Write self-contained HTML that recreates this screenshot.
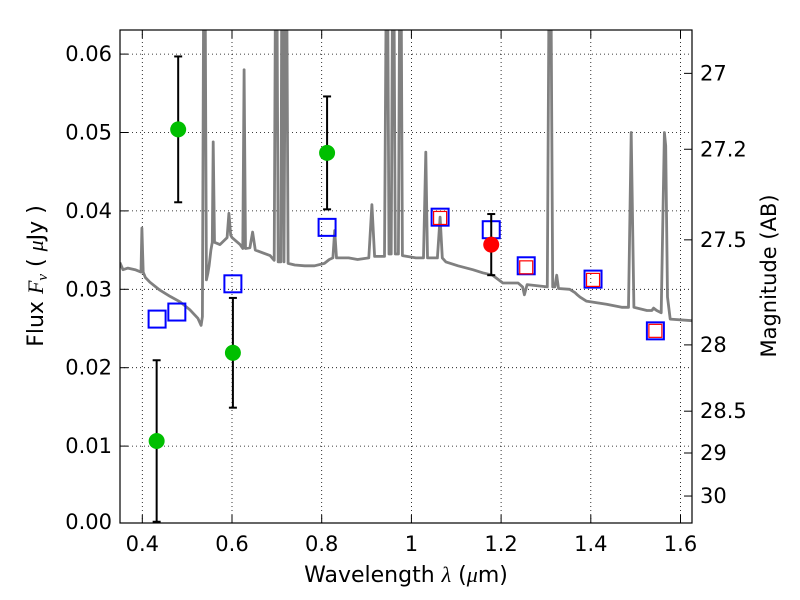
<!DOCTYPE html>
<html><head><meta charset="utf-8">
<style>
html,body{margin:0;padding:0;background:#fff;}
svg{display:block;font-family:"DejaVu Sans","Liberation Sans",sans-serif;}
</style></head>
<body>
<svg id="chart" width="800" height="600" viewBox="0 0 800 600" xmlns="http://www.w3.org/2000/svg">
<defs><clipPath id="clip"><rect x="120" y="30" width="572" height="493"/></clipPath></defs>
<rect x="0" y="0" width="800" height="600" fill="#fff"/>
<g id="grid"></g>
<g id="spec" clip-path="url(#clip)"></g>
<g id="marks" clip-path="url(#clip)"></g>
<rect x="120" y="30" width="572" height="493" fill="none" stroke="#000" stroke-width="1.2"/>
<g id="axes"></g>
<text x="406" y="582" font-size="22" text-anchor="middle">Wavelength  <tspan font-family="Liberation Serif,serif" font-style="italic">λ</tspan> (<tspan font-family="Liberation Serif,serif" font-style="italic">μ</tspan>m)</text>
<text transform="translate(43,276) rotate(-90)" font-size="22" text-anchor="middle">Flux  <tspan font-family="Liberation Serif,serif" font-style="italic">F<tspan font-size="15" dy="4">ν</tspan></tspan><tspan dy="-4">  ( </tspan><tspan font-family="Liberation Serif,serif" font-style="italic">μ</tspan>Jy )</text>
<text transform="translate(776,276) rotate(-90)" font-size="21" text-anchor="middle">Magnitude (AB)</text>
</svg>
<script>
const xTicks=[0.4,0.6,0.8,1.0,1.2,1.4,1.6];
const xTickLabels=["0.4","0.6","0.8","1","1.2","1.4","1.6"];
const yTicks=[0,0.01,0.02,0.03,0.04,0.05,0.06];
const yTickLabels=["0.00","0.01","0.02","0.03","0.04","0.05","0.06"];
const magTicks=[27,27.2,27.5,28,28.5,29,30];
const magTickLabels=["27","27.2","27.5","28","28.5","29","30"];
const spectrum=[[0.350,0.0334],[0.357,0.0325],[0.368,0.0327],[0.384,0.0325],[0.397,0.0322],[0.399,0.0378],[0.402,0.0322],[0.407,0.0315],[0.417,0.0309],[0.439,0.0299],[0.462,0.0291],[0.484,0.0284],[0.506,0.0274],[0.524,0.0263],[0.531,0.0254],[0.534,0.0265],[0.537,0.070],[0.540,0.070],[0.543,0.0312],[0.546,0.0320],[0.549,0.0330],[0.553,0.0350],[0.556,0.0360],[0.558,0.0488],[0.561,0.0360],[0.573,0.0357],[0.584,0.0363],[0.589,0.0366],[0.593,0.0397],[0.597,0.0369],[0.600,0.0366],[0.618,0.0357],[0.624,0.0352],[0.627,0.058],[0.630,0.0352],[0.640,0.0353],[0.646,0.0373],[0.652,0.0350],[0.685,0.0343],[0.694,0.0337],[0.697,0.070],[0.700,0.070],[0.703,0.0335],[0.709,0.0335],[0.711,0.070],[0.713,0.070],[0.716,0.0335],[0.719,0.070],[0.722,0.070],[0.725,0.0333],[0.740,0.0331],[0.762,0.0330],[0.784,0.0330],[0.806,0.0333],[0.817,0.0338],[0.825,0.0340],[0.829,0.0375],[0.833,0.0340],[0.860,0.0340],[0.880,0.0338],[0.905,0.0340],[0.912,0.0408],[0.918,0.0342],[0.940,0.0342],[0.944,0.070],[0.947,0.070],[0.950,0.0345],[0.955,0.0345],[0.958,0.070],[0.961,0.070],[0.964,0.0345],[0.971,0.0345],[0.974,0.070],[0.977,0.070],[0.980,0.0343],[1.010,0.0340],[1.027,0.0340],[1.032,0.0475],[1.036,0.0340],[1.058,0.0340],[1.064,0.0392],[1.069,0.0340],[1.077,0.0335],[1.104,0.0330],[1.137,0.0325],[1.159,0.0321],[1.181,0.0318],[1.204,0.0308],[1.238,0.0308],[1.248,0.0303],[1.252,0.0293],[1.258,0.0306],[1.303,0.0303],[1.307,0.070],[1.311,0.070],[1.315,0.0303],[1.320,0.0303],[1.324,0.0318],[1.328,0.0301],[1.353,0.0300],[1.364,0.0296],[1.370,0.0293],[1.376,0.0290],[1.390,0.0285],[1.435,0.0281],[1.469,0.0277],[1.484,0.0277],[1.490,0.0500],[1.496,0.0277],[1.525,0.0273],[1.536,0.0273],[1.540,0.0276],[1.547,0.0273],[1.557,0.0270],[1.564,0.0500],[1.567,0.0483],[1.571,0.0290],[1.577,0.0262],[1.626,0.0260]];
const obsWave=[0.432,0.480,0.602,0.812];
const obsFlux=[0.01065,0.0504,0.0219,0.0474];
const obsErr=[0.0103,0.0093,0.0070,0.0072];
const nirWave=[1.178];
const nirFlux=[0.0357];
const nirErr=[0.0039];
const modelWave=[0.433,0.477,0.602,0.812,1.064,1.178,1.256,1.405,1.544];
const modelFlux=[0.0262,0.0271,0.0307,0.0379,0.0392,0.0376,0.0330,0.0313,0.0247];
const redWave=[1.064,1.256,1.405,1.544];
const redFlux=[0.0391,0.0328,0.0312,0.0247];

const NS="http://www.w3.org/2000/svg";
const X=w=>142.3+(w-0.4)*448.5;
const Y=f=>524.5-f*7840;
const magToFlux=m=>Math.pow(10,(23.9-m)/2.5);
function mk(tag,attrs,parent){const e=document.createElementNS(NS,tag);for(const k in attrs)e.setAttribute(k,attrs[k]);parent.appendChild(e);return e;}
const grid=document.getElementById('grid'),axes=document.getElementById('axes'),spec=document.getElementById('spec'),marks=document.getElementById('marks');

xTicks.forEach((t,i)=>{
  const x=X(t);
  const g=mk('line',{x1:x,x2:x,y1:30,y2:523,stroke:'#000','stroke-width':0.8,'stroke-dasharray':'1,3'},grid);
  
  
  const tk=mk('line',{x1:x,x2:x,y1:523,y2:515,stroke:'#000','stroke-width':1},axes);
  
  
  const tk2=mk('line',{x1:x,x2:x,y1:30,y2:38,stroke:'#000','stroke-width':1},axes);
  
  
  const tl=mk('text',{x:x,y:551,'font-size':21,'text-anchor':'middle'},axes);
  tl.textContent=xTickLabels[i];
  
  
});
yTicks.forEach((t,i)=>{
  const y=Y(t);
  if(t>0){
    const g=mk('line',{x1:120,x2:692,y1:y,y2:y,stroke:'#000','stroke-width':0.8,'stroke-dasharray':'1,3'},grid);
    
    
    const tk=mk('line',{x1:120,x2:128,y1:y,y2:y,stroke:'#000','stroke-width':1},axes);
    
    
  }
  const tl=mk('text',{x:112,y:Math.min(y+7,529),'font-size':21,'text-anchor':'end'},axes);
  tl.textContent=yTickLabels[i];
  
  
});
magTicks.forEach((m,i)=>{
  const y=Y(magToFlux(m));
  const tk=mk('line',{x1:684,x2:692,y1:y,y2:y,stroke:'#000','stroke-width':1},axes);
  
  
  const tl=mk('text',{x:700,y:y+7,'font-size':21,'text-anchor':'start'},axes);
  tl.textContent=magTickLabels[i];
  
  
});

const pts=spectrum.map(p=>X(p[0]).toFixed(1)+','+Y(p[1]).toFixed(1)).join(' ');
const sp=mk('polyline',{points:pts,fill:'none',stroke:'#808080','stroke-width':2.8,'stroke-linejoin':'round'},spec);



function errbar(w,f,e){
  const x=X(w);
  const l=mk('line',{x1:x,x2:x,y1:Y(f+e),y2:Y(f-e),stroke:'#000','stroke-width':2},marks);
  
  
  [f+e,f-e].forEach(v=>{
    const c=mk('line',{x1:x-4,x2:x+4,y1:Y(v),y2:Y(v),stroke:'#000','stroke-width':2},marks);
    
    
  });
}
modelWave.forEach((w,i)=>{
  const r=mk('rect',{x:X(w)-8.5,y:Y(modelFlux[i])-8.5,width:17,height:17,fill:'none',stroke:'#0000ff','stroke-width':2},marks);
  
  
});
redWave.forEach((w,i)=>{
  const r=mk('rect',{x:X(w)-6.5,y:Y(redFlux[i])-6.5,width:13,height:13,fill:'none',stroke:'#ff0000','stroke-width':1.2},marks);
  
  
});
obsWave.forEach((w,i)=>{
  errbar(w,obsFlux[i],obsErr[i]);
  const c=mk('circle',{cx:X(w),cy:Y(obsFlux[i]),r:8,fill:'#00bf00'},marks);
  
  
});
nirWave.forEach((w,i)=>{
  errbar(w,nirFlux[i],nirErr[i]);
  const c=mk('circle',{cx:X(w),cy:Y(nirFlux[i]),r:8,fill:'#ff0000'},marks);
  
  
});
</script>
</body></html>
